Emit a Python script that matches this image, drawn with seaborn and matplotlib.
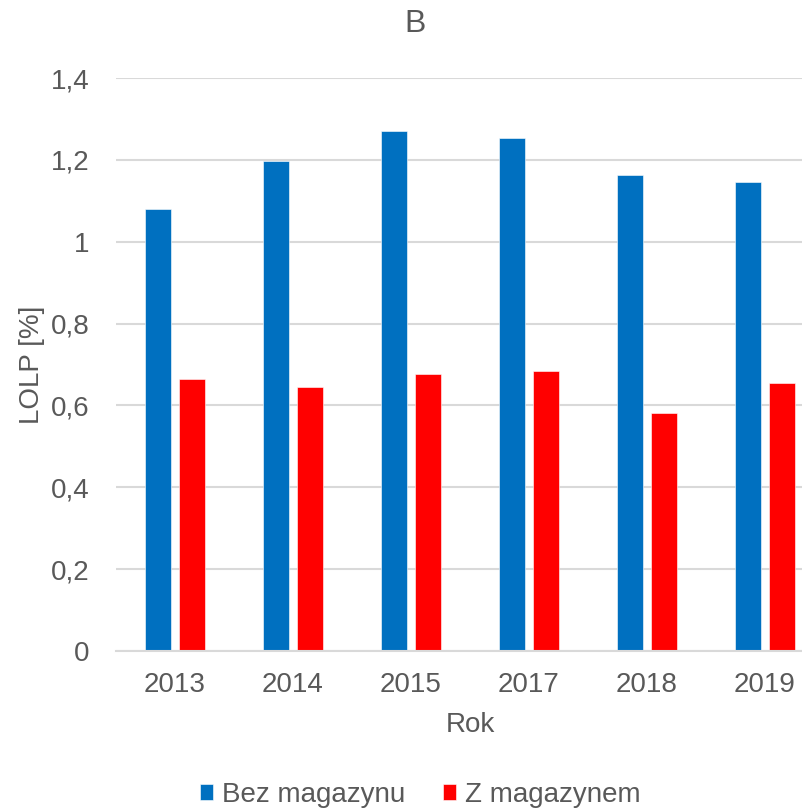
import matplotlib
matplotlib.use("Agg")
import matplotlib.pyplot as plt
import seaborn as sns
import pandas as pd

years = ["2013", "2014", "2015", "2017", "2018", "2019"]
bez_magazynu = [1.081, 1.197, 1.271, 1.253, 1.163, 1.146]
z_magazynem = [0.665, 0.645, 0.677, 0.685, 0.581, 0.655]
series_names = ["Bez magazynu", "Z magazynem"]
y_ticks = [0, 0.2, 0.4, 0.6, 0.8, 1.0, 1.2, 1.4]

df = pd.DataFrame({
    "Rok": years * 2,
    "LOLP": bez_magazynu + z_magazynem,
    "Seria": [series_names[0]] * len(years) + [series_names[1]] * len(years),
})

sns.set_theme(style="white")
plt.rcParams["font.family"] = ["Liberation Sans", "DejaVu Sans"]

text_col = "#595959"
grid_col = "#d9d9d9"

fig = plt.figure(figsize=(8.03, 8.09), dpi=100)
ax = fig.add_axes([116 / 803, 1 - 651 / 809, 708 / 803, (651 - 78) / 809])

sns.barplot(data=df, x="Rok", y="LOLP", hue="Seria", order=years,
            hue_order=series_names, palette=["#0070C0", "#FF0000"],
            width=0.573, gap=0.23, saturation=1, ax=ax,
            edgecolor="white", linewidth=0.4, legend=True)

ax.set_ylim(0, 1.4)
ax.set_xlim(-0.5, len(years) - 0.5)
ax.set_yticks(y_ticks)
ax.set_yticklabels([f"{v:g}".replace(".", ",") for v in y_ticks])
ax.yaxis.grid(True, color=grid_col, linewidth=1.5)
ax.set_axisbelow(True)
for side in ["left", "right", "top"]:
    ax.spines[side].set_visible(False)
ax.spines["bottom"].set_color(grid_col)
ax.spines["bottom"].set_linewidth(1.5)
ax.tick_params(axis="both", length=0, labelsize=20, colors=text_col)
ax.tick_params(axis="y", pad=19)
ax.tick_params(axis="x", pad=15)

ax.set_xlabel("Rok", fontsize=20, color=text_col, labelpad=10)
ax.set_ylabel("LOLP [%]", fontsize=20, color=text_col, labelpad=4)
fig.text(415 / 803, 1 - 24 / 809, "B", ha="center", va="center",
         fontsize=23, color=text_col)

handles, labels = ax.get_legend_handles_labels()
ax.legend_.remove()
fig.legend(handles, labels, loc="center", bbox_to_anchor=(420 / 803, 1 - 795 / 809),
           ncol=2, frameon=False, fontsize=20, labelcolor=text_col,
           handlelength=0.5, handleheight=0.5, handletextpad=0.3,
           columnspacing=1.35)

fig.savefig("out.png", dpi=100)
